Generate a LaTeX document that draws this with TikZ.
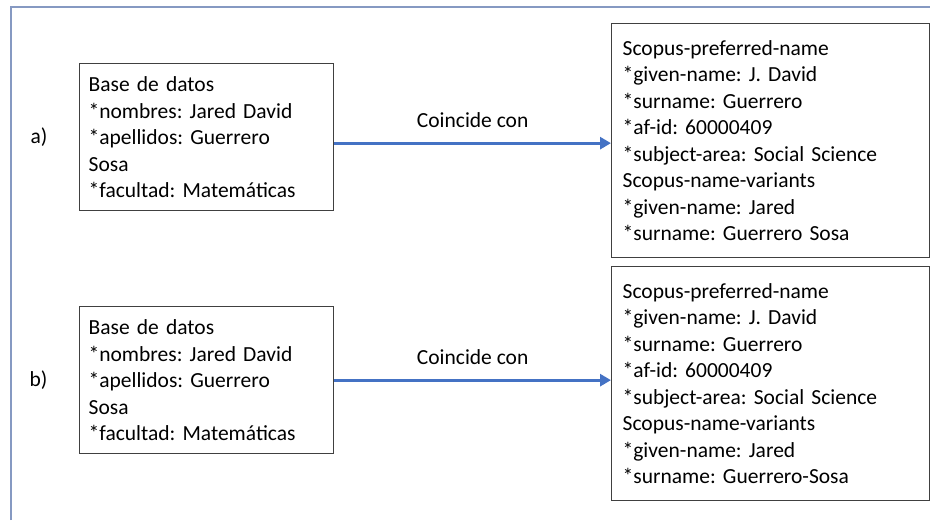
\documentclass[tikz,border=0pt]{standalone}
\usepackage{fontspec}
\setmainfont{Carlito}
\usetikzlibrary{positioning,arrows.meta}
\definecolor{framecol}{RGB}{134,153,194}
\definecolor{arrowcol}{RGB}{68,114,196}
\definecolor{boxcol}{RGB}{64,64,64}
\tikzset{
  textfont/.style={font=\fontsize{21.5}{26.5}\selectfont\frenchspacing},
  datosbox/.style={draw=boxcol, line width=1.3pt, textfont, align=left, anchor=north west,
    text width=236pt, inner xsep=9pt, minimum height=147pt},
  scopusbox/.style={datosbox, text width=296pt, inner xsep=11pt, minimum height=234pt},
  coincide/.style={draw=arrowcol, line width=3pt, -{Triangle[length=11pt,width=12pt]}},
  tag/.style={textfont}
}
\begin{document}
\begin{tikzpicture}[x=1pt, y=-1pt]
    \useasboundingbox (0,0) rectangle (930,520);
    \draw[framecol, line width=1.6pt] (11,520) -- (11,7) -- (930,7);

    \node[datosbox] (datosA) at (79,63) {Base de datos\\ {*}nombres: Jared David\\ {*}apellidos: Guerrero\\ Sosa\\ {*}facultad: Matemáticas};
    \node[scopusbox] (scopusA) at (611,23) {Scopus-preferred-name\\ {*}given-name: J. David\\ {*}surname: Guerrero\\ {*}af-id: 60000409\\ {*}subject-area: Social Science\\ Scopus-name-variants\\ {*}given-name: Jared\\ {*}surname: Guerrero Sosa};
    \node[tag, left=28pt of datosA] (tagA) {a)};
    \draw[coincide] ([yshift=-6pt]datosA.east) -- ([yshift=-6pt]datosA.east -| scopusA.west)
        node[midway, above=11pt, textfont, text=black] (labelA) {Coincide con};

    \node[datosbox] (datosB) at (79,306) {Base de datos\\ {*}nombres: Jared David\\ {*}apellidos: Guerrero\\ Sosa\\ {*}facultad: Matemáticas};
    \node[scopusbox] (scopusB) at (611,266) {Scopus-preferred-name\\ {*}given-name: J. David\\ {*}surname: Guerrero\\ {*}af-id: 60000409\\ {*}subject-area: Social Science\\ Scopus-name-variants\\ {*}given-name: Jared\\ {*}surname: Guerrero-Sosa};
    \node[tag, left=28pt of datosB] (tagB) {b)};
    \draw[coincide] (datosB.east) -- (datosB.east -| scopusB.west)
        node[midway, above=11pt, textfont, text=black] (labelB) {Coincide con};
\end{tikzpicture}
\end{document}
